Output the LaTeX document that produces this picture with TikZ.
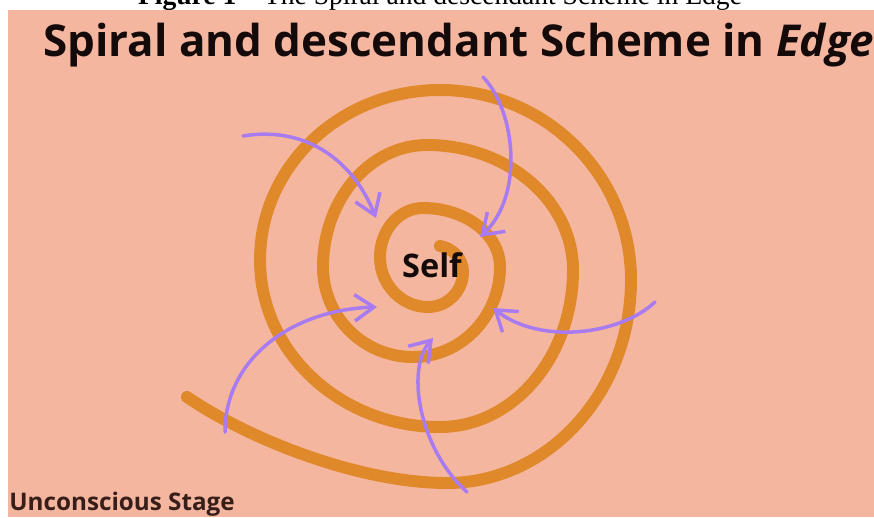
\documentclass[tikz,border=0pt]{standalone}
\usepackage{fontspec}
\setmainfont{Liberation Serif}
\newfontfamily\opensans{Open Sans}
\usetikzlibrary{arrows.meta}
\definecolor{salmonbg}{RGB}{245,182,160}
\definecolor{spiralorange}{RGB}{223,137,42}
\definecolor{arrowpurple}{RGB}{168,124,240}
\definecolor{inkdark}{RGB}{20,10,10}
\definecolor{inkbrown}{RGB}{55,30,25}
\tikzset{
  pull/.style={draw=arrowpurple,line width=2pt,line cap=round,-{Straight Barb[length=11pt,width=15pt]}},
  spiralline/.style={draw=spiralorange,line width=6.8pt,line cap=round},
}
\begin{document}
\begin{tikzpicture}[x=0.02cm,y=-0.02cm]
\useasboundingbox (0,0) rectangle (874,517);
\begin{scope}
\clip (0,0) rectangle (874,517);
\node[anchor=base,inner sep=0pt,font=\fontsize{15.7}{18}\selectfont] (caption) at (440,5) {\textbf{Figure 1} -- The Spiral and descendant Scheme in Edge};
\fill[salmonbg] (8,10) rectangle (874,517);

\node[anchor=base west,inner sep=0pt,text=inkdark,font=\opensans\bfseries\fontsize{25}{30}\selectfont] (title) at (43,57) {Spiral and descendant Scheme in \textit{Edge}};

\draw[spiralline] (440,246) .. controls (452,248) and (463,258) .. (463,272)
  .. controls (463,291.3) and (447.3,307) .. (428,307)
  .. controls (401.5,307) and (380,284.6) .. (380,257)
  .. controls (380,230) and (399.3,208) .. (423,208)
  .. controls (465.5,208) and (500,234.4) .. (500,267)
  .. controls (500,316.7) and (461,357) .. (413,357)
  .. controls (363.3,357) and (323,316.7) .. (323,267)
  .. controls (323,199.7) and (369.6,145) .. (427,145)
  .. controls (507.6,145) and (573,201) .. (573,270)
  .. controls (573,356.7) and (513.4,427) .. (440,427)
  .. controls (340.6,427) and (260,352.2) .. (260,260)
  .. controls (260,166.2) and (340.6,90) .. (440,90)
  .. controls (545.4,90) and (631,175.1) .. (631,280)
  .. controls (631,392) and (548.6,483) .. (447,483)
  .. controls (360,483) and (250,440) .. (187,397);

\node[anchor=base,inner sep=0pt,text=inkdark,font=\opensans\bfseries\fontsize{18.5}{22}\selectfont] (self) at (432,277) {Self};

\coordinate (p1s) at (243,136); \coordinate (p1e) at (376,218);
\coordinate (p2s) at (483,77);  \coordinate (p2e) at (480,237);
\coordinate (p3s) at (655,302); \coordinate (p3e) at (493,308);
\coordinate (p4s) at (467,492); \coordinate (p4e) at (433,338);
\coordinate (p5s) at (225,432); \coordinate (p5e) at (377,307);

\draw[pull] (p1s) .. controls (310,125) and (355,165) .. (p1e);
\draw[pull] (p2s) .. controls (515,110) and (525,195) .. (p2e);
\draw[pull] (p3s) .. controls (620,335) and (540,345) .. (p3e);
\draw[pull] (p4s) .. controls (420,450) and (405,370) .. (p4e);
\draw[pull] (p5s) .. controls (225,360) and (290,310) .. (p5e);

\node[anchor=base west,inner sep=0pt,text=inkbrown,font=\opensans\bfseries\fontsize{13.8}{16}\selectfont] (stage) at (9,510) {Unconscious Stage};
\end{scope}
\end{tikzpicture}
\end{document}
